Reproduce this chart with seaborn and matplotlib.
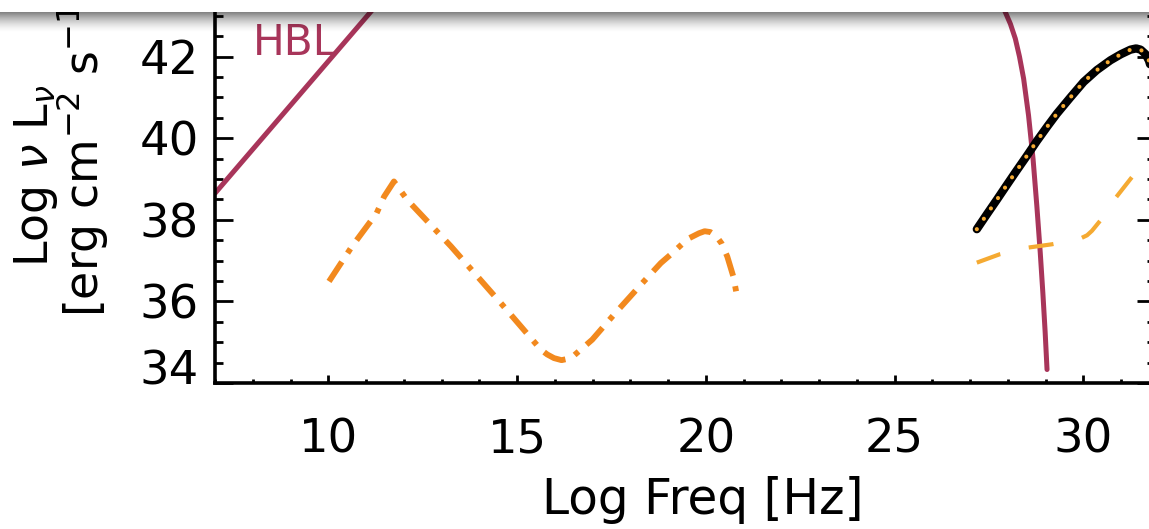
import numpy as np
import pandas as pd
import matplotlib
matplotlib.use("Agg")
import matplotlib.pyplot as plt
from matplotlib.patches import Rectangle
from matplotlib.ticker import MultipleLocator
from matplotlib.transforms import ScaledTranslation
import seaborn as sns

# ---- spectral components (log frequency [Hz] vs log nu L_nu) ----
# HBL synchrotron: rising branch and high-energy cutoff
hbl_rise_x = [7.00, 11.10, 11.95]
hbl_rise_y = [38.65, 43.07, 44.00]
hbl_cut_x = [27.45, 27.70, 27.93, 28.07, 28.20, 28.31, 28.42, 28.55, 28.67, 28.77,
             28.86, 28.93, 28.99, 29.04]
hbl_cut_y = [44.00, 43.55, 43.10, 42.80, 42.44, 42.00, 41.46, 40.56, 39.49, 38.34,
             37.20, 36.20, 35.25, 34.33]

# dash-dot component (radio to X-ray)
dashdot_x = [10.02, 10.63, 11.28, 11.48, 11.74, 12.09, 13.25, 14.57, 15.63, 15.80,
             15.98, 16.18, 16.43, 16.64, 16.99, 17.60, 18.00, 18.36, 18.81, 19.11,
             19.52, 19.82, 19.97, 20.12, 20.27, 20.42, 20.57, 20.73, 20.83]
dashdot_y = [36.49, 37.35, 38.16, 38.57, 38.94, 38.49, 37.35, 35.96, 34.82, 34.70,
             34.61, 34.56, 34.61, 34.78, 35.06, 35.71, 36.12, 36.49, 36.94, 37.18,
             37.53, 37.67, 37.72, 37.70, 37.61, 37.42, 37.10, 36.61, 36.12]

# gamma-ray total model (black with dotted overlay)
total_x = [27.18, 27.45, 27.71, 27.95, 28.20, 28.50, 28.77, 29.05, 29.30, 29.65,
           30.01, 30.36, 30.72, 31.00, 31.25, 31.40, 31.52, 31.65, 31.74, 31.85]
total_y = [37.77, 38.14, 38.49, 38.82, 39.16, 39.56, 39.93, 40.29, 40.60, 40.99,
           41.38, 41.67, 41.91, 42.06, 42.17, 42.20, 42.17, 42.06, 41.90, 41.55]

# gamma-ray dashed component
dashed_x = [27.18, 27.80, 28.55, 29.17, 29.92, 30.10, 30.23, 30.45, 30.80, 31.25,
            31.74, 31.90]
dashed_y = [36.95, 37.16, 37.32, 37.40, 37.54, 37.62, 37.73, 37.98, 38.47, 39.00,
            39.57, 39.75]

x_ticks = [10, 15, 20, 25, 30]
y_ticks = [34, 36, 38, 40, 42, 44]

RED = "#A8355A"
ORANGE = "#F2891E"
GOLD = "#F5AA32"

sns.set_theme(style="white")
plt.rcParams["font.family"] = ["DejaVu Sans"]
plt.rcParams["mathtext.fontset"] = "dejavusans"

W, H = 1149, 529
fig = plt.figure(figsize=(W / 100, H / 100), dpi=100)
fig.patch.set_facecolor("white")

left_px, right_px, bottom_px, top_px = 215, 1155, 383, -25
ax = fig.add_axes([left_px / W, (H - bottom_px) / H,
                   (right_px - left_px) / W, (bottom_px - top_px) / H])
ax.set_facecolor("white")

hbl = pd.DataFrame({
    "logf": hbl_rise_x + hbl_cut_x,
    "lum": hbl_rise_y + hbl_cut_y,
    "part": ["rise"] * len(hbl_rise_x) + ["cut"] * len(hbl_cut_x),
})
sns.lineplot(data=hbl, x="logf", y="lum", units="part", estimator=None, sort=False,
             color=RED, linewidth=3.6, legend=False, ax=ax)

sns.lineplot(x=dashdot_x, y=dashdot_y, estimator=None, sort=False, color=ORANGE,
             linewidth=4.2, linestyle=(0, (4.0, 1.8, 0.9, 1.8)), ax=ax)

sns.lineplot(x=dashed_x, y=dashed_y, estimator=None, sort=False, color=GOLD,
             linewidth=3.0, linestyle=(0, (6.0, 7.0)), ax=ax)

sns.lineplot(x=total_x, y=total_y, estimator=None, sort=False, color="black",
             linewidth=6.0, ax=ax)
sns.lineplot(x=total_x, y=total_y, estimator=None, sort=False, color=GOLD,
             linewidth=3.0, linestyle=(0, (0.01, 3.0)), dash_capstyle="round", ax=ax)

ax.text(8.0, 42.04, "HBL", color=RED, fontsize=30.5, va="baseline", ha="left")

ax.set_xlim(7, 31.9)
ax.set_ylim(34, 44)
ax.set_xticks(x_ticks)
ax.set_yticks(y_ticks)
ax.xaxis.set_minor_locator(MultipleLocator(1))
ax.yaxis.set_minor_locator(MultipleLocator(0.5))
ax.set_xlabel("")
ax.set_ylabel("")

for sp in ax.spines.values():
    sp.set_visible(True)
    sp.set_color("black")
    sp.set_linewidth(2.6)

ax.tick_params(which="both", direction="in", bottom=True, left=True, top=True,
               right=True, colors="black", width=2.0)
ax.tick_params(axis="y", which="major", length=13, pad=11.5, labelsize=33.5)
ax.tick_params(axis="y", which="minor", length=5.8)
ax.tick_params(axis="x", which="major", length=5.8, pad=25, labelsize=33.5)
ax.tick_params(axis="x", which="minor", length=2.6)

# axis titles
fig.text(703 / W, (H - 514) / H, "Log Freq [Hz]", fontsize=35, ha="center",
         va="baseline", color="black")
fig.text(48 / W, (H - 267) / H, r"Log $\nu$ L$_\nu$", fontsize=33, rotation=90,
         rotation_mode="anchor", ha="left", va="baseline", color="black")
fig.text(98 / W, (H - 317) / H, r"[erg cm$^{-2}$ s$^{-1}$]", fontsize=33, rotation=90,
         rotation_mode="anchor", ha="left", va="baseline", color="black")

# the lowest y label sits raised above the corner
fig.canvas.draw()
lowest = ax.yaxis.get_major_ticks()[0].label1
lowest.set_transform(lowest.get_transform()
                     + ScaledTranslation(0, 16 / 100, fig.dpi_scale_trans))

# shaded band across the top edge
band = fig.add_axes([0, 1 - 33 / H, 1, 21 / H], zorder=10)
alpha = np.linspace(1, 0, 80) ** 1.6 * 0.5
rgba = np.zeros((80, 2, 4))
rgba[..., 3] = alpha[:, None]
band.imshow(rgba, aspect="auto", extent=[0, 1, 0, 1], origin="upper",
            interpolation="bilinear")
band.axis("off")
fig.add_artist(Rectangle((0, 1 - 12 / H), 1, 12 / H, transform=fig.transFigure,
                         facecolor="white", edgecolor="none", zorder=20))

fig.savefig("out.png", dpi=100, facecolor="white")
